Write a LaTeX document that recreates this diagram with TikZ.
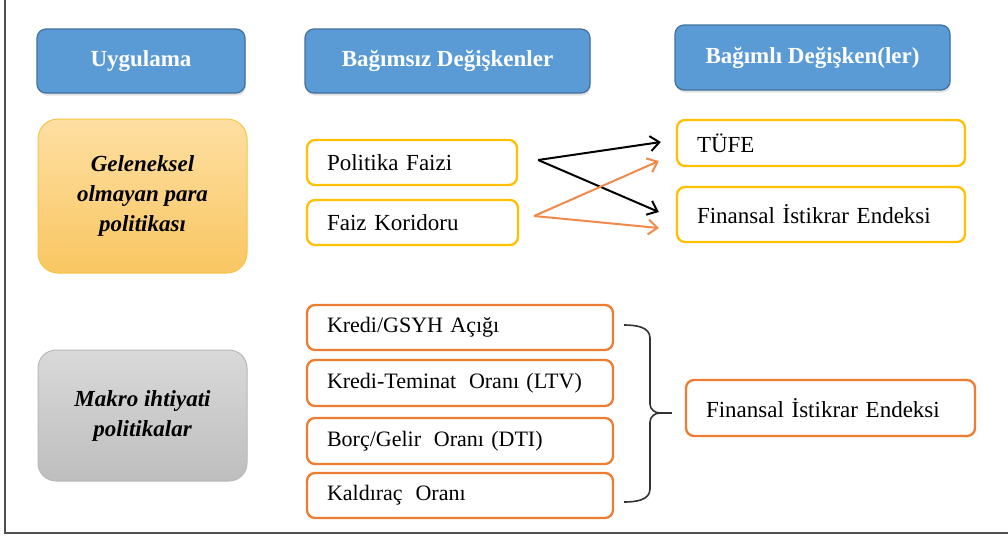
\documentclass[tikz,border=0pt]{standalone}
\usepackage{fontspec}
\setmainfont{Liberation Serif}
\usetikzlibrary{arrows.meta,shadows}
\definecolor{hdrblue}{HTML}{5B9BD5}
\definecolor{hdredge}{HTML}{41719C}
\definecolor{gold}{HTML}{FFC000}
\definecolor{orng}{HTML}{ED7D31}
\definecolor{ytop}{HTML}{FEDFA2}
\definecolor{ybot}{HTML}{F9C662}
\definecolor{yedge}{HTML}{F6C545}
\definecolor{gtop}{HTML}{D9D9D9}
\definecolor{gbot}{HTML}{BEBEBE}
\definecolor{gedge}{HTML}{B8B8B8}
\definecolor{framegray}{HTML}{505050}
\definecolor{arrorange}{HTML}{F08A4B}
\tikzset{
  hdr/.style={draw=hdredge, line width=1.2pt, fill=hdrblue, rounded corners=9pt,
    text=white, inner sep=0pt, font=\fontsize{23}{28}\selectfont\bfseries,
    drop shadow={opacity=0.22, shadow xshift=1pt, shadow yshift=-2.5pt}},
  leftbox/.style={rounded corners=20pt, inner sep=0pt, align=center,
    font=\fontsize{23}{30}\selectfont\bfseries\itshape},
  ybox/.style={draw=gold, line width=2.3pt, fill=white, rounded corners=8pt,
    inner xsep=20pt, inner ysep=0pt, align=left, font=\fontsize{23}{28}\selectfont},
  obox/.style={draw=orng, line width=2.3pt, fill=white, rounded corners=8pt,
    inner xsep=20pt, inner ysep=0pt, align=left, font=\fontsize{22}{28}\selectfont},
  blackarrow/.style={draw=black, line width=2pt, -{Straight Barb[length=9pt,width=15pt]}},
  orangearrow/.style={draw=arrorange, line width=2pt, -{Straight Barb[length=9pt,width=15pt]}},
  bracestyle/.style={draw=black!80, line width=1.6pt}
}
\begin{document}
\begin{tikzpicture}[x=1pt,y=-1pt]
\useasboundingbox (0,0) rectangle (1008,539);
\fill[white] (0,0) rectangle (1008,539);
% frame
\draw[framegray, line width=1.6pt] (5,0) -- (5,533) -- (1008,533);

% headers
\node[hdr, minimum width=208pt, minimum height=64pt] (u) at (141,61) {Uygulama};
\node[hdr, minimum width=285pt, minimum height=64pt] (bi) at (447.5,61) {\raisebox{3pt}{Bağımsız Değişkenler}};
\node[hdr, minimum width=275pt, minimum height=65pt] (bl) at (812.5,57.5) {Bağımlı Değişken(ler)};

% left boxes
\node[leftbox, draw=yedge, line width=1pt, top color=ytop, bottom color=ybot,
  minimum width=209pt, minimum height=154pt] (gel) at (142.5,196)
  {Geleneksel\\olmayan para\\politikası};
\node[leftbox, draw=gedge, line width=1pt, top color=gtop, bottom color=gbot,
  rounded corners=18pt, minimum width=209pt, minimum height=131pt] (mak) at (142.5,415.5)
  {Makro ihtiyati\\politikalar};

% independent (upper)
\node[ybox, text width=170pt, minimum height=45pt] (pf) at (412,162.5) {Politika Faizi};
\node[ybox, text width=171pt, minimum height=45pt] (fk) at (412.5,222.5) {Faiz Koridoru};

% dependent (upper)
\node[ybox, text width=248pt, minimum height=46pt] (tufe) at (821,143) {TÜFE};
\node[ybox, text width=248pt, minimum height=55pt] (fie1) at (821,214.5) {Finansal İstikrar Endeksi};

% independent (lower)
\node[obox, text width=266pt, minimum height=45pt] (k1) at (460,327.5) {Kredi/GSYH Açığı};
\node[obox, text width=266pt, minimum height=46pt] (k2) at (460,383) {Kredi-Teminat\hspace{0.25em} Oranı (LTV)};
\node[obox, text width=266pt, minimum height=46pt] (k3) at (460,441) {Borç/Gelir\hspace{0.25em} Oranı (DTI)};
\node[obox, text width=266pt, minimum height=45pt] (k4) at (460,495.5) {Kaldıraç\hspace{0.25em} Oranı};

% dependent (lower)
\node[obox, font=\fontsize{23}{28}\selectfont, text width=249pt, minimum height=56pt] (fie2) at (830.5,408) {Finansal İstikrar Endeksi};

% arrows (note: xshift/yshift are canvas shifts, positive yshift = up)
\coordinate (pfs) at ([xshift=20pt,yshift=2.5pt]pf.east);
\coordinate (fks) at ([xshift=15pt,yshift=6.5pt]fk.east);
\draw[blackarrow] (pfs) -- ([xshift=-15pt,yshift=1pt]tufe.west);
\draw[blackarrow] (pfs) -- ([xshift=-17pt,yshift=2.5pt]fie1.west);
\draw[orangearrow] (fks) -- ([xshift=-17pt,yshift=-18pt]tufe.west);
\draw[orangearrow] (fks) -- ([xshift=-17pt,yshift=-13.5pt]fie1.west);

% brace
\coordinate (bt) at ([xshift=10pt,yshift=2.5pt]k1.east);
\coordinate (bb) at ([xshift=10pt,yshift=-6.5pt]k4.east);
\coordinate (btip) at ([xshift=-13pt,yshift=-5pt]fie2.west);
\draw[bracestyle] (bt) to[out=0,in=90] (650,338) -- (650,404) to[out=-90,in=180] (660,413) -- (btip);
\draw[bracestyle] (660,413) to[out=180,in=90] (650,422) -- (650,489) to[out=-90,in=0] (bb);
\end{tikzpicture}
\end{document}
